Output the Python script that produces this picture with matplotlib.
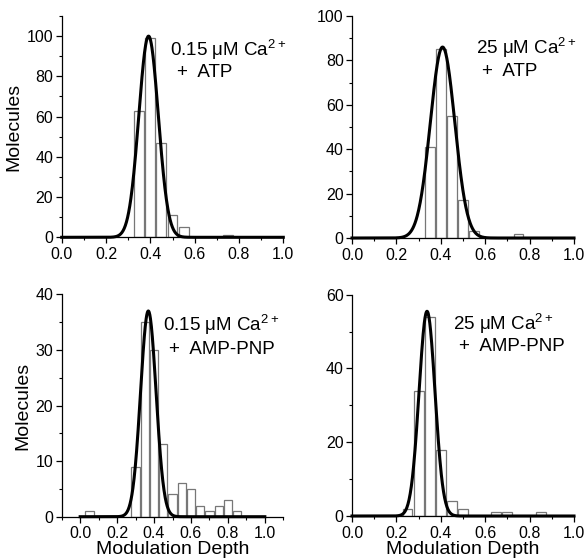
import matplotlib

matplotlib.use("Agg")

import matplotlib.pyplot as plt
import numpy as np
from matplotlib.ticker import MultipleLocator

plt.rcParams["font.family"] = ["Liberation Sans", "DejaVu Sans"]
plt.rcParams["mathtext.fontset"] = "custom"
plt.rcParams["mathtext.rm"] = "Liberation Sans"
plt.rcParams["mathtext.default"] = "regular"

# histogram bins (modulation depth) and counts per panel
atp_low_bins = [0.35, 0.40, 0.45, 0.50, 0.55, 0.75]
atp_low_counts = [63, 99, 47, 11, 5, 1]

atp_high_bins = [0.35, 0.40, 0.45, 0.50, 0.55, 0.75]
atp_high_counts = [41, 85, 55, 17, 3, 2]

pnp_low_bins = [0.05, 0.30, 0.35, 0.40, 0.45, 0.50, 0.55, 0.60, 0.65, 0.70, 0.75, 0.80, 0.85]
pnp_low_counts = [1, 9, 35, 30, 13, 4, 6, 5, 2, 1, 2, 3, 1]

pnp_high_bins = [0.25, 0.30, 0.35, 0.40, 0.45, 0.50, 0.65, 0.70, 0.85]
pnp_high_counts = [2, 34, 54, 18, 4, 2, 1, 1, 1]

# gaussian fit parameters: amplitude, centre, width (sigma)
fit_amplitude = [100, 86, 37, 55.5]
fit_centre = [0.392, 0.408, 0.369, 0.338]
fit_sigma = [0.044, 0.055, 0.042, 0.036]

panel_labels = [
    ("0.15 μM Ca$^{2+}$", "+  ATP"),
    ("25 μM Ca$^{2+}$", "+  ATP"),
    ("0.15 μM Ca$^{2+}$", "+  AMP-PNP"),
    ("25 μM Ca$^{2+}$", "+  AMP-PNP"),
]

W, H = 585, 559
fig = plt.figure(figsize=(W / 100, H / 100), dpi=100)


def px_axes(left, top, right, bottom):
    return fig.add_axes([left / W, 1 - bottom / H, (right - left) / W, (bottom - top) / H])


panels = [
    dict(ax=px_axes(61.7, 16, 283.3, 237.3), bins=atp_low_bins, counts=atp_low_counts,
         xlim=(0, 1), ylim=(0, 110), ymajor=20, yminor=10,
         text_pos=[(0.49, 93), (0.52, 82)]),
    dict(ax=px_axes(352, 16, 574, 238), bins=atp_high_bins, counts=atp_high_counts,
         xlim=(0, 1), ylim=(0, 100), ymajor=20, yminor=10,
         text_pos=[(0.557, 85.6), (0.584, 74.8)]),
    dict(ax=px_axes(61.7, 294.3, 283.3, 516.7), bins=pnp_low_bins, counts=pnp_low_counts,
         xlim=(-0.1, 1.1), ylim=(0, 40), ymajor=10, yminor=5,
         text_pos=[(0.45, 34.5), (0.483, 30)]),
    dict(ax=px_axes(352, 294.7, 574, 516), bins=pnp_high_bins, counts=pnp_high_counts,
         xlim=(0, 1), ylim=(0, 60), ymajor=20, yminor=10,
         text_pos=[(0.454, 52.2), (0.483, 45.9)]),
]

x_fit = np.linspace(0, 1, 600)

for i, p in enumerate(panels):
    ax = p["ax"]
    ax.bar(p["bins"], p["counts"], width=0.045, facecolor="white",
           edgecolor="#777777", linewidth=0.9, zorder=2)
    y_fit = fit_amplitude[i] * np.exp(-0.5 * ((x_fit - fit_centre[i]) / fit_sigma[i]) ** 2)
    ax.plot(x_fit, y_fit, color="black", linewidth=2.2, zorder=3, clip_on=False)

    ax.set_xlim(*p["xlim"])
    ax.set_ylim(*p["ylim"])
    ax.xaxis.set_minor_locator(MultipleLocator(0.1))
    ax.yaxis.set_major_locator(MultipleLocator(p["ymajor"]))
    ax.yaxis.set_minor_locator(MultipleLocator(p["yminor"]))
    ticks = np.arange(0, 1.01, 0.2)
    ax.set_xticks(ticks)
    ax.set_xticklabels([f"{v:.1f}" for v in ticks])
    ax.tick_params(which="major", direction="out", length=4, width=0.9, labelsize=11.5)
    ax.tick_params(axis="x", which="major", pad=3)
    ax.tick_params(axis="y", which="major", pad=2)
    ax.tick_params(which="minor", direction="out", length=2, width=0.8)

    for side in ("top", "right"):
        ax.spines[side].set_visible(False)
    for side in ("left", "bottom"):
        ax.spines[side].set_linewidth(0.9)
    ax.patch.set_alpha(0)

    (x1, y1), (x2, y2) = p["text_pos"]
    ax.text(x1, y1, panel_labels[i][0], fontsize=13.5, va="center", ha="left")
    ax.text(x2, y2, panel_labels[i][1], fontsize=13.5, va="center", ha="left")

    if i in (0, 2):
        ax.set_ylabel("Molecules", fontsize=14, labelpad=3)
    if i in (2, 3):
        ax.set_xlabel("Modulation Depth", fontsize=14, labelpad=0)

fig.savefig("out.png", dpi=100)
